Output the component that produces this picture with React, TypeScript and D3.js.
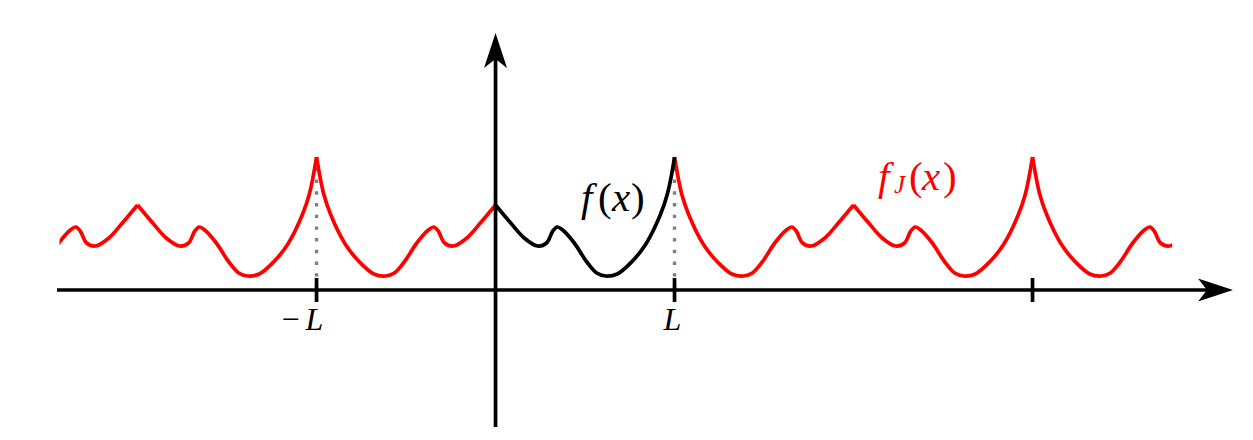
import React from "react";
import * as d3 from "d3";

const W = 1253;
const H = 440;

// f(x) sampled on [0, L]; x in units of L, y in arbitrary units
const fX = [0, 0.08, 0.16, 0.235, 0.285, 0.32, 0.345, 0.375, 0.44, 0.51, 0.565, 0.615, 0.68, 0.76, 0.84, 0.92, 0.96, 1];
const fY = [0.85, 0.68, 0.52, 0.44, 0.47, 0.59, 0.63, 0.6, 0.47, 0.28, 0.17, 0.14, 0.16, 0.28, 0.46, 0.75, 0.96, 1.33];

// extents (in units of L / value units)
const xAxisExtent = [-2.45, 4.12];
const yAxisExtent = [-1.37, 2.57];
const curveExtent = [-2.436, 3.78];

// periods of the even periodic extension f_J, as [k, k+1] pieces
const pieceStarts = [-3, -2, -1, 1, 2, 3];

const tickValues = [-1, 1, 3];
const tickLabels = ["−L", "L", ""];
const dottedAt = [-1, 1];

const FONT = "Liberation Serif";

export default function App() {
  const x = d3.scaleLinear().domain(xAxisExtent).range([57, 1233]);
  const y = d3.scaleLinear().domain(yAxisExtent).range([427, 33]);

  const line = d3
    .line<[number, number]>()
    .x((d) => x(d[0]))
    .y((d) => y(d[1]))
    .curve(d3.curveCatmullRom.alpha(0.5));

  const base: [number, number][] = fX.map((v, i) => [v, fY[i]]);

  const pieces = pieceStarts.map((k) => {
    const pts: [number, number][] =
      Math.abs(k) % 2 === 0
        ? fX.map((v, i) => [k + v, fY[i]])
        : fX.map((v, i) => [k + 1 - v, fY[i]]);
    pts.sort((a, b) => a[0] - b[0]);
    return pts;
  });

  const peak = fY[fY.length - 1];
  const x0 = x(0);
  const y0 = y(0);
  const xEnd = x(xAxisExtent[1]);
  const yEnd = y(yAxisExtent[1]);
  const arrowLen = 35;
  const arrowHalf = 11.5;
  const notch = 26;
  const sw = 3.7;

  const tickStyle: React.CSSProperties = { fontFamily: FONT, fontSize: "32px" };
  const labStyle: React.CSSProperties = { fontFamily: FONT, fontSize: "41px" };

  return (
    <svg
      width={W}
      height={H}
      viewBox={`0 0 ${W} ${H}`}
      style={{ position: "absolute", left: 0, top: 0, background: "#fff" }}
    >
      <defs>
        <clipPath id="cclip">
          <rect x={x(curveExtent[0])} y={0} width={x(curveExtent[1]) - x(curveExtent[0])} height={H} />
        </clipPath>
      </defs>

      {/* dotted guide lines */}
      {dottedAt.map((v) => (
        <line
          key={"d" + v}
          x1={x(v)}
          x2={x(v)}
          y1={y0}
          y2={y(peak)}
          stroke="#808080"
          strokeWidth={3.4}
          strokeDasharray="3.4 8.3"
          strokeDashoffset={-1.7}
        />
      ))}

      {/* red extension */}
      <g clipPath="url(#cclip)">
        {pieces.map((p, i) => (
          <path key={i} d={line(p) || ""} fill="none" stroke="#ff0000" strokeWidth={sw} strokeLinejoin="round" />
        ))}
      </g>

      {/* original f */}
      <path d={line(base) || ""} fill="none" stroke="#000" strokeWidth={sw} strokeLinejoin="round" />

      {/* x axis */}
      <line x1={x(xAxisExtent[0])} x2={xEnd - notch + 2} y1={y0} y2={y0} stroke="#000" strokeWidth={sw} />
      <path
        d={`M${xEnd},${y0} L${xEnd - arrowLen},${y0 - arrowHalf} L${xEnd - notch},${y0} L${xEnd - arrowLen},${y0 + arrowHalf} Z`}
        fill="#000"
      />
      {/* y axis */}
      <line x1={x0} x2={x0} y1={y(yAxisExtent[0])} y2={yEnd + notch - 2} stroke="#000" strokeWidth={sw} />
      <path
        d={`M${x0},${yEnd} L${x0 - arrowHalf},${yEnd + arrowLen} L${x0},${yEnd + notch} L${x0 + arrowHalf},${yEnd + arrowLen} Z`}
        fill="#000"
      />

      {/* ticks */}
      {tickValues.map((v, i) => {
        const tx = x(v);
        const lab = tickLabels[i];
        return (
          <g key={"t" + v}>
            <line x1={tx} x2={tx} y1={y0 - 12} y2={y0 + 12} stroke="#000" strokeWidth={sw} />
            {lab.startsWith("−") ? (
              <text y={330} style={tickStyle} fill="#000">
                <tspan x={tx - 35}>−</tspan>
                <tspan x={tx - 11} fontStyle="italic">{lab.slice(1)}</tspan>
              </text>
            ) : lab ? (
              <text x={tx - 11} y={330} style={tickStyle} fontStyle="italic" fill="#000">
                {lab}
              </text>
            ) : null}
          </g>
        );
      })}

      {/* labels */}
      <text y={211} style={labStyle} fill="#000">
        <tspan x={581} fontStyle="italic">f</tspan>
        <tspan x={598}>(</tspan>
        <tspan x={612} fontStyle="italic">x</tspan>
        <tspan x={631}>)</tspan>
      </text>
      <text y={190} style={labStyle} fill="#ff0000">
        <tspan x={878} fontStyle="italic">f</tspan>
        <tspan x={894} dy={3} style={{ fontSize: "25px" }} fontStyle="italic">J</tspan>
        <tspan x={909} dy={-3}>(</tspan>
        <tspan x={922} fontStyle="italic">x</tspan>
        <tspan x={943}>)</tspan>
      </text>
    </svg>
  );
}
